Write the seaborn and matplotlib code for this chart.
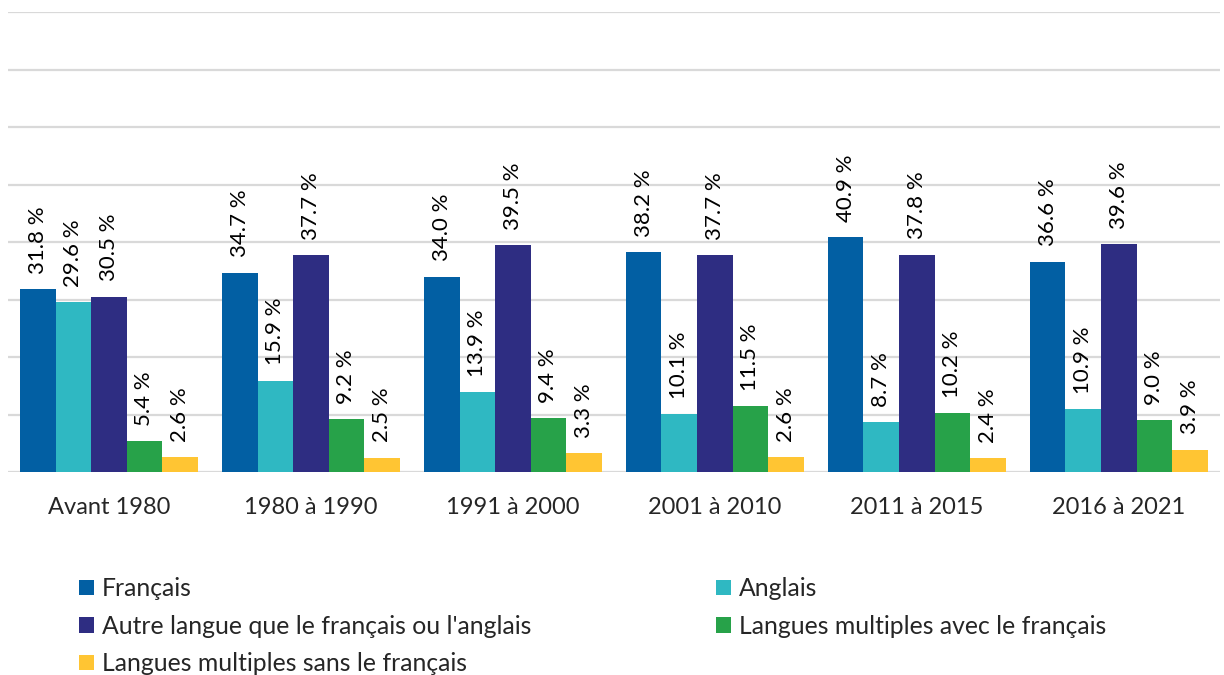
import pandas as pd
import matplotlib.pyplot as plt
import seaborn as sns
from matplotlib.patches import Patch

sns.set_style('white')
plt.rcParams['font.family'] = ['Lato', 'DejaVu Sans']

periods = ['Avant 1980', '1980 à 1990', '1991 à 2000', '2001 à 2010', '2011 à 2015', '2016 à 2021']
series = ['Français', 'Anglais', "Autre langue que le français ou l'anglais",
          'Langues multiples avec le français', 'Langues multiples sans le français']
francais = [31.8, 34.7, 34.0, 38.2, 40.9, 36.6]
anglais = [29.6, 15.9, 13.9, 10.1, 8.7, 10.9]
autre = [30.5, 37.7, 39.5, 37.7, 37.8, 39.6]
multi_avec = [5.4, 9.2, 9.4, 11.5, 10.2, 9.0]
multi_sans = [2.6, 2.5, 3.3, 2.6, 2.4, 3.9]
colors = ['#025FA3', '#2FB8C2', '#2E2D82', '#27A249', '#FFC533']

values = [francais, anglais, autre, multi_avec, multi_sans]
rows = []
for name, vals in zip(series, values):
    for p, v in zip(periods, vals):
        rows.append({'period': p, 'series': name, 'value': v})
df = pd.DataFrame(rows)

fig = plt.figure(figsize=(12.24, 6.75), dpi=100)
ax = fig.add_axes([0.0065, 0.3007, 0.990, 0.6813])

sns.barplot(data=df, x='period', y='value', hue='series', hue_order=series,
            palette=colors, saturation=1, width=0.88, linewidth=0,
            errorbar=None, ax=ax, legend=False)

for cont in ax.containers:
    ax.bar_label(cont, labels=[f'{v:.1f} %' for v in cont.datavalues],
                 rotation=90, padding=11, fontsize=16, color='black')

ax.set_ylim(0, 80)
ax.set_yticks(range(0, 81, 10))
ax.yaxis.grid(True, color='#D9D9D9', linewidth=1.6)
ax.set_axisbelow(True)
ax.set_yticklabels([])
ax.tick_params(axis='y', length=0)
ax.tick_params(axis='x', length=0, pad=18, labelsize=17)
ax.set_xlabel('')
ax.set_ylabel('')
ax.set_xlim(-0.5, 5.5)
for s in ax.spines.values():
    s.set_visible(False)

handles = [Patch(facecolor=c, edgecolor='none') for c in colors]
leg_kw = dict(loc='upper left', frameon=False, fontsize=17.8,
              handlelength=0.6, handleheight=0.6, handletextpad=0.32,
              labelspacing=0.59, borderaxespad=0, borderpad=0)
fig.legend([handles[0], handles[2], handles[4]], [series[0], series[2], series[4]],
           bbox_to_anchor=(0.0645, 0.145), **leg_kw)
fig.legend([handles[1], handles[3]], [series[1], series[3]],
           bbox_to_anchor=(0.585, 0.145), **leg_kw)

fig.savefig('out.png', dpi=100)
